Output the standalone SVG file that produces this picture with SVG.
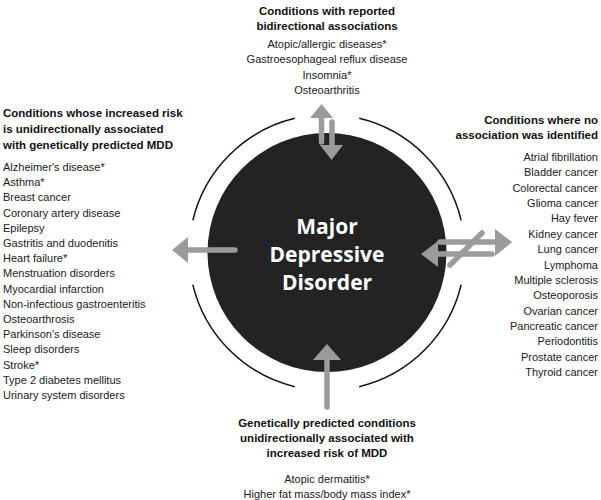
<svg xmlns="http://www.w3.org/2000/svg" width="601" height="500" viewBox="0 0 601 500">
<style>
.t{font-family:"Liberation Sans",Arial,sans-serif;font-size:11px;fill:#1a1a1a}
.h{font-family:"Liberation Sans",Arial,sans-serif;font-size:11.5px;font-weight:bold;fill:#111}
.c{text-anchor:middle}
.e{text-anchor:end}
.m{font-family:"Open Sans",sans-serif;font-size:21px;font-weight:bold;fill:#fff;text-anchor:middle}
.arc{fill:none;stroke:#111;stroke-width:1.5}
.sh{stroke:#9b9b9b;stroke-width:5.5;stroke-linecap:round;fill:none}
.hd{fill:#9b9b9b}
</style>
<rect width="601" height="500" fill="#fff"/>
<g id="node-mdd">
<circle cx="327" cy="252.5" r="119.5" fill="#232323"/>
<text class="m" x="327" y="234">Major</text>
<text class="m" x="327" y="262">Depressive</text>
<text class="m" x="327" y="290">Disorder</text>
</g>
<g id="ring">
<path class="arc" d="M359.2,118.3 A138,138 0 0 1 461.2,220.3"/>
<path class="arc" d="M461.2,284.7 A138,138 0 0 1 359.2,386.7"/>
<path class="arc" d="M294.8,386.7 A138,138 0 0 1 192.8,284.7"/>
<path class="arc" d="M192.8,220.3 A138,138 0 0 1 294.8,118.3"/>
</g>
<g id="connectors">
<line class="sh" x1="321.5" y1="117" x2="321.5" y2="142"/>
<polygon class="hd" points="321.5,104 310,118 333,118"/>
<line class="sh" x1="332" y1="122" x2="332" y2="146"/>
<polygon class="hd" points="331.5,160 320,145 343,145"/>
<line class="sh" x1="187" y1="250" x2="235" y2="250"/>
<polygon class="hd" points="172,250 188,237 188,263"/>
<line class="sh" x1="440" y1="242" x2="496" y2="242"/>
<polygon class="hd" points="512,242 495,229 495,256"/>
<line class="sh" x1="437" y1="254" x2="492" y2="254"/>
<polygon class="hd" points="421,254 438,241 438,267"/>
<line class="sh" x1="450" y1="265" x2="482" y2="233"/>
<line class="sh" x1="327" y1="359" x2="327" y2="407"/>
<polygon class="hd" points="327,344 313,360 341,360"/>
</g>
<g id="node-bidirectional">
<text class="h c" x="327" y="15">Conditions with reported</text>
<text class="h c" x="327" y="30">bidirectional associations</text>
<text class="t c" x="327" y="47.5">Atopic/allergic diseases*</text>
<text class="t c" x="327" y="63">Gastroesophageal reflux disease</text>
<text class="t c" x="327" y="78.5">Insomnia*</text>
<text class="t c" x="327" y="93.5">Osteoarthritis</text>
</g>
<g id="node-outcomes">
<text class="h" x="3" y="117">Conditions whose increased risk</text>
<text class="h" x="3" y="133">is unidirectionally associated</text>
<text class="h" x="3" y="149">with genetically predicted MDD</text>
<text class="t" x="3" y="171">Alzheimer's disease*</text>
<text class="t" x="3" y="186.2">Asthma*</text>
<text class="t" x="3" y="201.4">Breast cancer</text>
<text class="t" x="3" y="216.6">Coronary artery disease</text>
<text class="t" x="3" y="231.8">Epilepsy</text>
<text class="t" x="3" y="247">Gastritis and duodenitis</text>
<text class="t" x="3" y="262.2">Heart failure*</text>
<text class="t" x="3" y="277.4">Menstruation disorders</text>
<text class="t" x="3" y="292.6">Myocardial infarction</text>
<text class="t" x="3" y="307.8">Non-infectious gastroenteritis</text>
<text class="t" x="3" y="323">Osteoarthrosis</text>
<text class="t" x="3" y="338.2">Parkinson's disease</text>
<text class="t" x="3" y="353.4">Sleep disorders</text>
<text class="t" x="3" y="368.6">Stroke*</text>
<text class="t" x="3" y="383.8">Type 2 diabetes mellitus</text>
<text class="t" x="3" y="399">Urinary system disorders</text>
</g>
<g id="node-none">
<text class="h e" x="598" y="124">Conditions where no</text>
<text class="h e" x="598" y="139">association was identified</text>
<text class="t e" x="598" y="161">Atrial fibrillation</text>
<text class="t e" x="598" y="176.4">Bladder cancer</text>
<text class="t e" x="598" y="191.7">Colorectal cancer</text>
<text class="t e" x="598" y="207.1">Glioma cancer</text>
<text class="t e" x="598" y="222.4">Hay fever</text>
<text class="t e" x="598" y="237.8">Kidney cancer</text>
<text class="t e" x="598" y="253.2">Lung cancer</text>
<text class="t e" x="598" y="268.5">Lymphoma</text>
<text class="t e" x="598" y="283.9">Multiple sclerosis</text>
<text class="t e" x="598" y="299.2">Osteoporosis</text>
<text class="t e" x="598" y="314.6">Ovarian cancer</text>
<text class="t e" x="598" y="330">Pancreatic cancer</text>
<text class="t e" x="598" y="345.3">Periodontitis</text>
<text class="t e" x="598" y="360.7">Prostate cancer</text>
<text class="t e" x="598" y="376">Thyroid cancer</text>
</g>
<g id="node-exposures">
<text class="h c" x="327" y="427">Genetically predicted conditions</text>
<text class="h c" x="327" y="442">unidirectionally associated with</text>
<text class="h c" x="327" y="457">increased risk of MDD</text>
<text class="t c" x="327" y="483">Atopic dermatitis*</text>
<text class="t c" x="327" y="498">Higher fat mass/body mass index*</text>
</g>
</svg>
